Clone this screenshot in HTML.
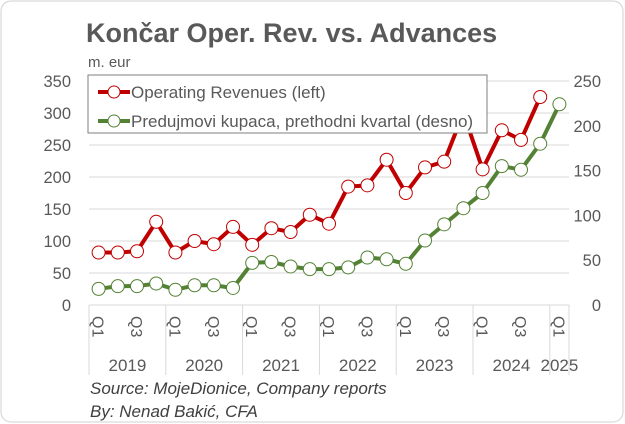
<!DOCTYPE html>
<html><head><meta charset="utf-8"><style>
html,body{margin:0;padding:0;background:#fff;}
svg{display:block;font-family:"Liberation Sans",sans-serif;}
</style></head><body>
<svg id="c" width="625" height="424">
<rect x="1" y="1" width="622" height="421" rx="10" fill="#fff" stroke="#d0d0d0"/>
<text x="86" y="42" font-size="27" font-weight="bold" fill="#595959">Končar Oper. Rev. vs. Advances</text>
<text x="88" y="67" font-size="15" fill="#595959">m. eur</text>
<g id="grid"></g><g id="axes"></g><g id="series"></g>
<g>
<rect x="88" y="75" width="399" height="58" fill="#fff" stroke="#7f7f7f"/>
<line x1="98" y1="92" x2="130" y2="92" stroke="#c00000" stroke-width="4"/><circle cx="114" cy="92" r="6" fill="#fff" stroke="#c00000"/>
<text x="131" y="98" font-size="17" fill="#595959">Operating Revenues (left)</text>
<line x1="98" y1="121" x2="130" y2="121" stroke="#548235" stroke-width="4"/><circle cx="114" cy="121" r="6" fill="#fff" stroke="#548235"/>
<text x="131" y="127" font-size="17" fill="#595959">Predujmovi kupaca, prethodni kvartal (desno)</text>
</g>
<text x="90" y="394" font-size="17" font-style="italic" fill="#404040">Source: MojeDionice, Company reports</text>
<text x="90" y="417" font-size="17" font-style="italic" fill="#404040">By: Nenad Bakić, CFA</text>
</svg>
<script>
const revenues=[82,82,84,130,82,100,95,122,94,120,114,141,127,185,187,227,175,215,224,300,212,273,258,325];
const advances=[18,21,21,24,17,22,22,19,47,48,43,40,40,42,53,51,46,72,90,108,125,155,151,180,224];
const leftTicks=[0,50,100,150,200,250,300,350];
const rightTicks=[0,50,100,150,200,250];
const years=["2019","2020","2021","2022","2023","2024","2025"];
const quarters=["Q1","Q2","Q3","Q4"];
const NS="http://www.w3.org/2000/svg";
const X0=89,X1=569,Y0=305,YT=81;
const n=advances.length, step=(X1-X0)/n;
const xs=i=>X0+step*(i+0.5);
const yl=v=>Y0-(v/350)*(Y0-YT);
const yr=v=>Y0-(v/250)*(Y0-YT);
function mk(t,a,p){const e=document.createElementNS(NS,t);for(const k in a)e.setAttribute(k,a[k]);p.appendChild(e);return e;}
const grid=document.getElementById('grid'),axes=document.getElementById('axes'),ser=document.getElementById('series');
leftTicks.forEach(v=>{
 if(v>0){const g=mk('line',{x1:X0,x2:X1,y1:yl(v),y2:yl(v),stroke:'#d9d9d9'},grid);
 
 }
 const t=mk('text',{x:71,y:yl(v)+6,'font-size':16.5,fill:'#595959','text-anchor':'end'},axes);t.textContent=v;
 
 
});
rightTicks.forEach(v=>{
 const t=mk('text',{x:601,y:yr(v)+6,'font-size':16.5,fill:'#595959','text-anchor':'end'},axes);t.textContent=v;
 
 
});
mk('line',{x1:X0,x2:X1,y1:Y0,y2:Y0,stroke:'#d9d9d9'},axes);
for(let y=0;y<years.length;y++){
 const s=y*4, e=Math.min(s+4,n);
 const l=mk('line',{x1:X0+step*s,x2:X0+step*s,y1:Y0,y2:375,stroke:'#d9d9d9'},axes);
 
 
 const t=mk('text',{x:X0+step*(s+e)/2,y:371,'font-size':17,fill:'#595959','text-anchor':'middle'},axes);t.textContent=years[y];
 
 
}
mk('line',{x1:X1,x2:X1,y1:Y0,y2:375,stroke:'#d9d9d9'},axes);
for(let i=0;i<n;i+=2){
 const x=xs(i)-6,y=316;
 const t=mk('text',{x:x,y:y,'font-size':16,fill:'#595959',transform:`rotate(90 ${x} ${y})`},axes);t.textContent=quarters[i%4];
 
 
}
function series(vals,yf,col,name){
 const p=mk('polyline',{points:vals.map((v,i)=>xs(i)+','+yf(v)).join(' '),fill:'none',stroke:col,'stroke-width':4,'stroke-linejoin':'round'},ser);
 
 
 vals.forEach((v,i)=>{const c=mk('circle',{cx:xs(i),cy:yf(v),r:6.5,fill:'#fff',stroke:col},ser);
 
 });
}
series(advances,yr,'#548235','advances');
series(revenues,yl,'#c00000','revenues');
</script>
</body></html>
